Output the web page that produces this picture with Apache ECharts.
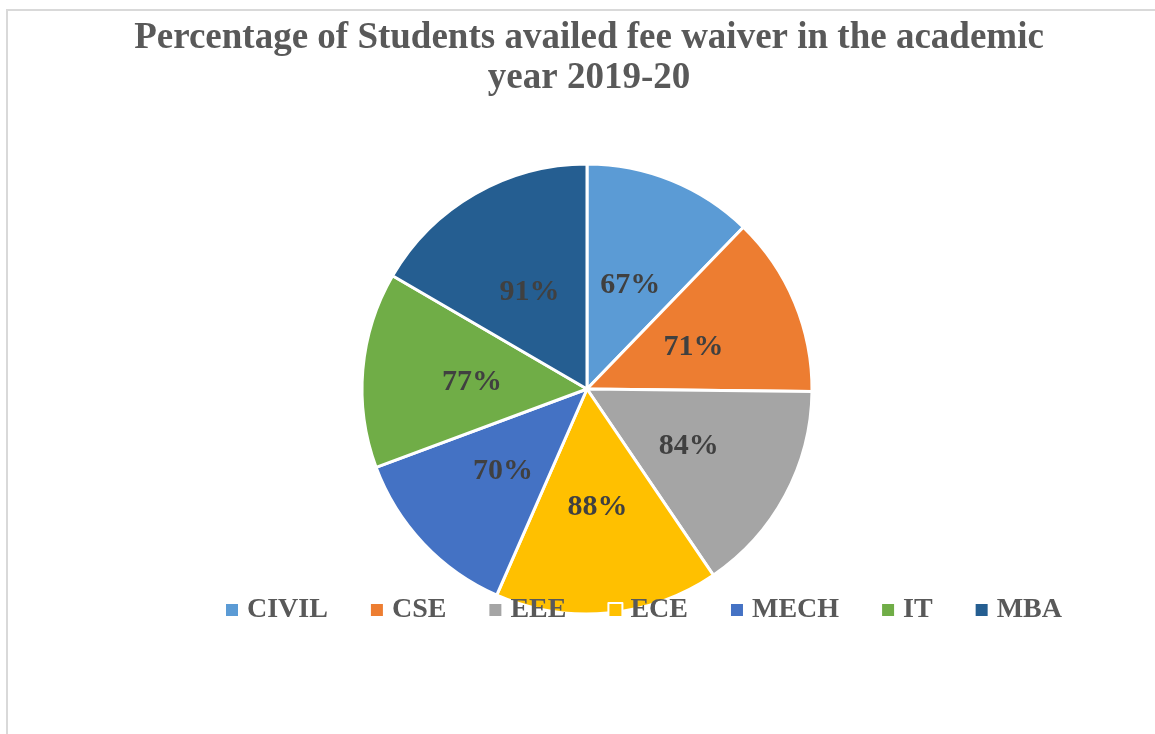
<!DOCTYPE html>
<html>
<head>
<meta charset="utf-8">
<script src="https://cdn.jsdelivr.net/npm/echarts@6/dist/echarts.min.js"></script>
<style>
  html, body { margin:0; padding:0; background:#fff; }
  #chart { width:1155px; height:734px; }
</style>
</head>
<body>
<div id="chart"></div>
<script>
    var branches = ['CIVIL', 'CSE', 'EEE', 'ECE', 'MECH', 'IT', 'MBA'];
    var percents = [67, 71, 84, 88, 70, 77, 91];
    var colors = ['#5B9BD5', '#ED7D31', '#A5A5A5', '#FFC000', '#4472C4', '#70AD47', '#255E91'];

    var fontFam = '"Liberation Serif", "Times New Roman", serif';

    var pieData = [];
    for (var i = 0; i < branches.length; i++) {
        pieData.push({ name: branches[i], value: percents[i] });
    }

    var chart = echarts.init(document.getElementById('chart'));
    var option = {
        animation: false,
        color: colors,
        title: {
            text: 'Percentage of Students availed fee waiver in the academic\nyear 2019-20',
            left: 584,
            top: 13,
            textAlign: 'center',
            textStyle: {
                color: '#595959',
                fontFamily: fontFam,
                fontWeight: 'bold',
                fontSize: 37,
                lineHeight: 40
            }
        },
        graphic: [{
            type: 'rect',
            shape: { x: 7, y: 10, width: 1300, height: 800 },
            style: { fill: 'none', stroke: '#d9d9d9', lineWidth: 2 },
            silent: true,
            z: -10
        }],
        legend: {
            data: branches,
            left: 219,
            top: 591,
            itemWidth: 14,
            itemHeight: 14,
            itemGap: 41,
            icon: 'rect',
            textStyle: {
                color: '#595959',
                fontFamily: fontFam,
                fontWeight: 'bold',
                fontSize: 28,
                padding: [0, 0, 0, 3]
            }
        },
        series: [{
            type: 'pie',
            center: [587, 389],
            radius: [0, 225],
            startAngle: 90,
            clockwise: true,
            itemStyle: {
                borderColor: '#fff',
                borderWidth: 3
            },
            label: {
                show: true,
                position: 'inside',
                offset: [0, 3],
                formatter: function (p) { return p.value + '%'; },
                color: '#404040',
                fontFamily: fontFam,
                fontWeight: 'bold',
                fontSize: 30
            },
            labelLine: { show: false },
            data: pieData
        }]
    };
    chart.setOption(option);
</script>
</body>
</html>
